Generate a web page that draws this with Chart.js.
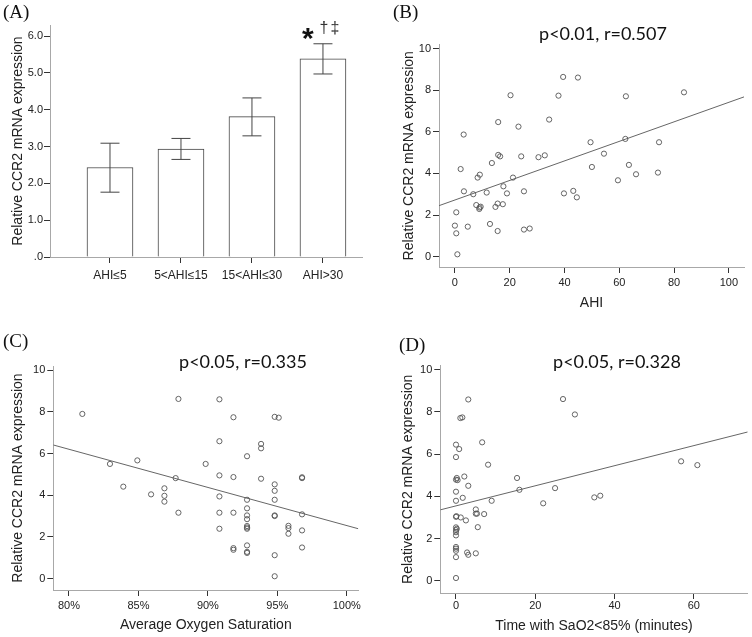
<!DOCTYPE html>
<html>
<head>
<meta charset="utf-8">
<script src="https://cdn.jsdelivr.net/npm/chart.js@4.4.1/dist/chart.umd.min.js"></script>
<style>
  body { margin: 0; background: #fff; }
  #wrap { position: relative; width: 752px; height: 637px; }
  canvas { position: absolute; }
  .lbl { position: absolute; font-family: "Liberation Serif", serif; font-size: 19px; line-height: 19px; color: #111; }
  .ttl { position: absolute; width: 240px; text-align: center; font-family: Lato, sans-serif; font-size: 18px; line-height: 18px; color: #111; }
</style>
</head>
<body>
<div id="wrap">
  <canvas id="chartA" width="376" height="318" style="left:0;top:0"></canvas>
  <canvas id="chartB" width="376" height="318" style="left:376px;top:0"></canvas>
  <canvas id="chartC" width="376" height="319" style="left:0;top:318px"></canvas>
  <canvas id="chartD" width="376" height="319" style="left:376px;top:318px"></canvas>
  <div class="lbl" style="left:3px;top:2px">(A)</div>
  <div class="lbl" style="left:393px;top:2px">(B)</div>
  <div class="lbl" style="left:3px;top:331px">(C)</div>
  <div class="lbl" style="left:399px;top:335px">(D)</div>
  <div class="ttl" style="left:483px;top:24px">p&lt;0.01, r=0.507</div>
  <div class="ttl" style="left:123px;top:352px">p&lt;0.05, r=0.335</div>
  <div class="ttl" style="left:497px;top:352px">p&lt;0.05, r=0.328</div>
</div>
<script>
// (A) mean expression by AHI group
const barLabels = ["AHI≤5", "5<AHI≤15", "15<AHI≤30", "AHI>30"];
const barX = [1, 2, 3, 4];
const barMean = [2.43, 2.93, 3.81, 5.38];
const barLow = [1.76, 2.65, 3.29, 4.97];
const barHigh = [3.09, 3.22, 4.32, 5.79];

// (B) AHI vs CCR2
const ahiX = [0, 0.5, 0.5, 0.9, 2.1, 3.2, 3.3, 4.7, 6.7, 7.8, 8.3, 8.9, 9.1, 9.4, 9.0, 11.6, 12.8, 13.5, 14.8, 15.6,
  15.6, 15.8, 15.8, 16.5, 17.7, 17.5, 19.0, 20.3, 21.2, 23.2, 24.2, 25.2, 25.2, 27.3, 30.5, 32.8, 34.4, 37.8, 39.5, 39.8,
  43.2, 44.5, 44.9, 49.5, 50.0, 54.4, 59.5, 62.2, 62.4, 63.5, 66.1, 74.1, 74.5, 83.6];
const ahiY = [1.49, 2.13, 1.12, 0.11, 4.21, 5.87, 3.14, 1.44, 3.0, 2.48, 3.8, 2.29, 3.94, 2.4, 2.36, 3.08, 1.57, 4.5, 2.39, 1.23,
  2.55, 6.47, 4.89, 4.82, 3.38, 2.52, 3.04, 7.76, 3.8, 6.25, 4.82, 3.14, 1.30, 1.35, 4.78, 4.87, 6.59, 7.74, 8.64, 3.04,
  3.16, 2.85, 8.61, 5.5, 4.31, 4.95, 3.67, 5.66, 7.71, 4.41, 3.96, 4.04, 5.5, 7.9];
const ahiFitX = [-5.8, 105.5];
const ahiFitY = [2.45, 7.68];

// (C) average oxygen saturation vs CCR2
const satX = [80.96, 82.95, 83.91, 84.92, 85.91, 86.87, 86.87, 86.87, 87.68, 87.88, 87.88, 89.84, 90.83, 90.83, 90.83, 90.83, 90.83, 90.83,
  91.84, 91.84, 91.84, 91.84, 91.84, 92.82, 92.82, 92.82, 92.82, 92.82, 92.82, 92.82, 92.82, 92.82, 92.82, 92.82,
  93.83, 93.83, 93.83, 94.81, 95.1, 94.81, 94.81, 94.81, 94.81, 94.81, 94.81, 94.81, 95.8, 95.8, 95.8, 96.78, 96.78, 96.78, 96.78, 96.78];
const satY = [7.9, 5.5, 4.41, 5.67, 4.04, 4.33, 3.97, 3.69, 4.82, 8.62, 3.16, 5.5, 8.6, 6.59, 4.95, 3.94, 3.16, 2.39,
  7.74, 4.87, 3.16, 1.46, 1.38, 5.87, 3.78, 3.37, 3.03, 2.85, 2.52, 2.45, 2.39, 1.59, 1.28, 1.23,
  6.46, 6.25, 4.79, 7.76, 7.72, 4.52, 4.21, 3.78, 3.03, 3.0, 1.12, 0.11, 2.53, 2.42, 2.15, 4.86, 4.82, 3.08, 2.31, 1.49];
const satFitX = [78.87, 100.83];
const satFitY = [6.41, 2.39];

// (D) time with SaO2<85% vs CCR2
const timeX = [0, 0, 0, 0, 0, 0, 0, 0, 0.2, 0, 0, 0.1, 0, 0, 0, 0.2, 0.4, 0, 0, 0.8, 1.1, 1.6, 1.2, 1.7, 2.1, 2.5, 2.8, 3.1,
  3.1, 3.1, 5.0, 5.0, 5.3, 5.0, 5.5, 6.6, 7.1, 8.1, 9.0, 15.4, 16.0, 22.0, 25.0, 27.0, 30.0, 34.9, 36.4, 56.8, 60.9];
const timeY = [0.13, 1.12, 1.42, 1.52, 1.6, 2.15, 2.3, 2.4, 2.46, 2.53, 3.03, 3.06, 3.79, 4.22, 4.79, 4.87, 4.77, 5.86, 6.45, 6.24,
  7.71, 7.74, 3.0, 3.93, 4.94, 2.86, 1.34, 1.23, 8.59, 4.5, 3.38, 3.18, 3.18, 1.3, 2.54, 6.56, 3.16, 5.5, 3.79, 4.87, 4.31,
  3.67, 4.39, 8.61, 7.88, 3.95, 4.03, 5.66, 5.48];
const timeFitX = [-3.96, 73.6];
const timeFitY = [3.36, 7.05];

const font = "'Liberation Sans', Arial, sans-serif";
Chart.defaults.font.family = font;

function axis(o) {
  return {
    type: 'linear',
    min: o.min,
    max: o.max,
    offset: false,
    afterFit: s => { if (s.isHorizontal()) s.height = o.size; else s.width = o.size; },
    border: { color: '#a8a8a8', width: 1 },
    grid: { drawOnChartArea: false, offset: false, tickLength: 6, tickColor: '#333' },
    ticks: {
      stepSize: o.step, includeBounds: false, padding: o.pad, color: '#222',
      font: { size: o.fs || 11 }, maxRotation: 0, autoSkip: false, callback: o.fmt
    },
    title: {
      display: !!o.title, text: o.title, color: '#222', font: { size: 14 },
      padding: o.tpad || 0
    }
  };
}

const errorBars = {
  id: 'errorBars',
  afterDatasetsDraw(chart) {
    const { ctx, scales: { x, y } } = chart;
    ctx.save();
    ctx.strokeStyle = '#444';
    ctx.lineWidth = 1;
    barX.forEach((v, i) => {
      const px = x.getPixelForValue(v);
      const lo = y.getPixelForValue(barLow[i]);
      const hi = y.getPixelForValue(barHigh[i]);
      ctx.beginPath();
      ctx.moveTo(px, lo); ctx.lineTo(px, hi);
      ctx.moveTo(px - 9.5, lo); ctx.lineTo(px + 9.5, lo);
      ctx.moveTo(px - 9.5, hi); ctx.lineTo(px + 9.5, hi);
      ctx.stroke();
    });
    // significance marks over the last group
    const px = x.getPixelForValue(barX[3]);
    const top = y.getPixelForValue(barHigh[3]);
    ctx.fillStyle = '#111';
    ctx.textAlign = 'center';
    ctx.textBaseline = 'alphabetic';
    ctx.font = "bold 30px " + font;
    ctx.fillText('*', px - 15, top + 4);
    ctx.font = "16px " + font;
    ctx.fillStyle = '#333';
    ctx.fillText('†', px + 1, top - 11);
    ctx.fillText('‡', px + 12, top - 11);
    ctx.restore();
  }
};

new Chart(document.getElementById('chartA'), {
  type: 'bar',
  data: {
    datasets: [{
      data: barX.map((x, i) => ({ x: x, y: barMean[i] })),
      backgroundColor: '#fff',
      borderColor: '#444',
      borderWidth: 1,
      barThickness: 46
    }]
  },
  options: {
    responsive: false,
    animation: false,
    layout: { padding: { left: 0, top: 25, right: 14, bottom: 21 } },
    plugins: { legend: { display: false }, tooltip: { enabled: false } },
    scales: {
      x: Object.assign(axis({ min: 0.155, max: 4.55, size: 40, pad: 5, fs: 12, fmt: (v, i) => barLabels[i] }), {
        afterBuildTicks: s => { s.ticks = barX.map(v => ({ value: v })); }
      }),
      y: axis({ min: 0, max: 6.3, step: 1, size: 50, pad: 1, title: 'Relative CCR2 mRNA expression',
        tpad: { top: 10, bottom: 0 }, fmt: v => v === 0 ? '.0' : v.toFixed(1) })
    }
  },
  plugins: [errorBars]
});

function scatter(id, xs, ys, fitX, fitY, xAxis, yAxis, pad) {
  new Chart(document.getElementById(id), {
    type: 'scatter',
    data: {
      datasets: [
        {
          data: xs.map((x, i) => ({ x: x, y: ys[i] })),
          pointRadius: 2.6, pointHoverRadius: 2.6,
          borderColor: '#555', backgroundColor: 'rgba(0,0,0,0)', borderWidth: 0.9
        },
        {
          type: 'line',
          data: fitX.map((x, i) => ({ x: x, y: fitY[i] })),
          borderColor: '#666', borderWidth: 1, pointRadius: 0, fill: false
        }
      ]
    },
    options: {
      responsive: false,
      animation: false,
      layout: { padding: pad },
      plugins: { legend: { display: false }, tooltip: { enabled: false } },
      scales: { x: xAxis, y: yAxis }
    }
  });
}

scatter('chartB', ahiX, ahiY, ahiFitX, ahiFitY,
  axis({ min: -5.8, max: 105.5, step: 20, size: 48, pad: 3, title: 'AHI', tpad: { top: 0, bottom: 3 } }),
  axis({ min: -0.5, max: 10.2, step: 2, size: 63, pad: 2, title: 'Relative CCR2 mRNA expression', tpad: { top: 24.6, bottom: 0 } }),
  { left: 0, top: 44.5, right: 8, bottom: 3 });

scatter('chartC', satX, satY, satFitX, satFitY,
  axis({ min: 78.87, max: 100.83, step: 5, size: 46, pad: 3, title: 'Average Oxygen Saturation',
    tpad: { top: 0, bottom: 2.3 }, fmt: v => v + '%' }),
  axis({ min: -0.55, max: 10.2, step: 2, size: 53.3, pad: 2, title: 'Relative CCR2 mRNA expression', tpad: { top: 9.6, bottom: 0 } }),
  { left: 0, top: 48, right: 17.7, bottom: 1 });

scatter('chartD', timeX, timeY, timeFitX, timeFitY,
  axis({ min: -3.96, max: 73.6, step: 20, size: 43, pad: 0, title: 'Time with SaO2<85% (minutes)', tpad: { top: 0, bottom: 1.6 } }),
  axis({ min: -0.58, max: 10.2, step: 2, size: 64.3, pad: 2, title: 'Relative CCR2 mRNA expression', tpad: { top: 23.6, bottom: 0 } }),
  { left: 0, top: 47.5, right: 4.3, bottom: 1 });
</script>
</body>
</html>
